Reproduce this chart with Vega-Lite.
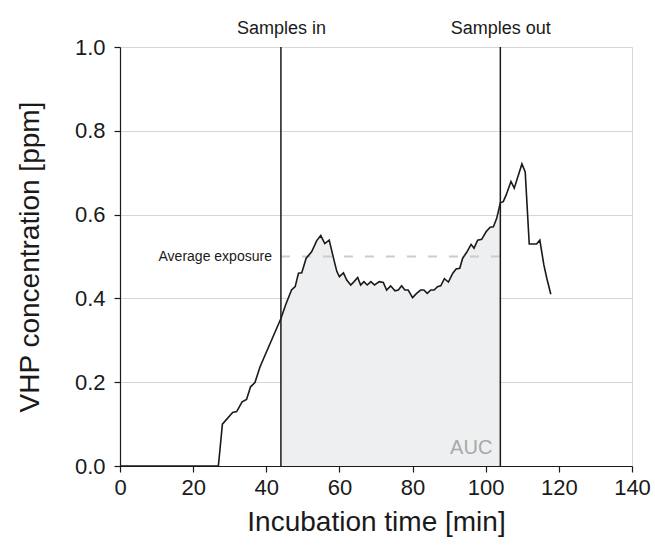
{
  "$schema": "https://vega.github.io/schema/vega-lite/v6.json",
  "width": 512,
  "height": 419,
  "autosize": {"type": "none"},
  "padding": {"left": 120, "top": 47, "right": 23, "bottom": 86},
  "background": "white",
  "config": {
    "font": "Liberation Sans",
    "view": {"stroke": "#d6d6d6", "strokeWidth": 1},
    "axis": {
      "domainColor": "#1a1a1a",
      "domainWidth": 1.2,
      "tickColor": "#1a1a1a",
      "tickWidth": 1.2,
      "tickSize": 6,
      "labelColor": "#1a1a1a",
      "labelFontSize": 22,
      "labelFont": "Liberation Sans",
      "labelFlush": false,
      "labelOverlap": false,
      "titleFont": "Liberation Sans",
      "titleFontSize": 28,
      "titleFontWeight": "normal",
      "titleColor": "#1a1a1a",
      "gridColor": "#d6d6d6",
      "gridWidth": 1
    }
  },
  "datasets": {
    "vhp": [
      {"t": 0, "c": 0}, {"t": 26.9, "c": 0}, {"t": 28.0, "c": 0.1}, {"t": 30.8, "c": 0.128},
      {"t": 31.9, "c": 0.13}, {"t": 33.4, "c": 0.153}, {"t": 34.6, "c": 0.159}, {"t": 35.7, "c": 0.189},
      {"t": 36.9, "c": 0.199}, {"t": 38.3, "c": 0.237}, {"t": 44.0, "c": 0.352}, {"t": 45.3, "c": 0.385},
      {"t": 46.9, "c": 0.42}, {"t": 47.9, "c": 0.428}, {"t": 48.8, "c": 0.46}, {"t": 49.7, "c": 0.461},
      {"t": 50.9, "c": 0.496}, {"t": 52.4, "c": 0.511}, {"t": 53.8, "c": 0.538}, {"t": 54.9, "c": 0.55},
      {"t": 56.0, "c": 0.531}, {"t": 57.2, "c": 0.539}, {"t": 58.5, "c": 0.492}, {"t": 59.3, "c": 0.464},
      {"t": 60.0, "c": 0.452}, {"t": 61.1, "c": 0.461}, {"t": 62.0, "c": 0.444}, {"t": 63.1, "c": 0.432},
      {"t": 64.0, "c": 0.44}, {"t": 65.0, "c": 0.45}, {"t": 65.8, "c": 0.432}, {"t": 66.7, "c": 0.44},
      {"t": 67.6, "c": 0.432}, {"t": 68.6, "c": 0.44}, {"t": 69.6, "c": 0.432}, {"t": 70.9, "c": 0.44},
      {"t": 72.0, "c": 0.438}, {"t": 72.9, "c": 0.42}, {"t": 74.0, "c": 0.43}, {"t": 75.2, "c": 0.418},
      {"t": 76.1, "c": 0.42}, {"t": 77.0, "c": 0.43}, {"t": 77.9, "c": 0.42}, {"t": 78.8, "c": 0.42},
      {"t": 80.0, "c": 0.402}, {"t": 81.1, "c": 0.412}, {"t": 82.2, "c": 0.42}, {"t": 83.1, "c": 0.42},
      {"t": 84.0, "c": 0.412}, {"t": 85.0, "c": 0.42}, {"t": 85.9, "c": 0.42}, {"t": 86.8, "c": 0.428},
      {"t": 87.7, "c": 0.43}, {"t": 88.7, "c": 0.447}, {"t": 89.8, "c": 0.439}, {"t": 91.0, "c": 0.46},
      {"t": 91.9, "c": 0.47}, {"t": 92.9, "c": 0.472}, {"t": 93.7, "c": 0.496}, {"t": 94.8, "c": 0.51},
      {"t": 96.0, "c": 0.529}, {"t": 96.8, "c": 0.52}, {"t": 97.8, "c": 0.539}, {"t": 98.9, "c": 0.541},
      {"t": 100.1, "c": 0.559}, {"t": 101.2, "c": 0.57}, {"t": 102.1, "c": 0.571}, {"t": 103.0, "c": 0.591},
      {"t": 104.0, "c": 0.628}, {"t": 104.8, "c": 0.631}, {"t": 105.6, "c": 0.647}, {"t": 106.9, "c": 0.679},
      {"t": 107.8, "c": 0.663}, {"t": 109.9, "c": 0.721}, {"t": 110.8, "c": 0.702}, {"t": 111.9, "c": 0.53},
      {"t": 113.9, "c": 0.53}, {"t": 114.8, "c": 0.539}, {"t": 115.9, "c": 0.48}, {"t": 116.7, "c": 0.448},
      {"t": 117.8, "c": 0.41}
    ],
    "events": [
      {"t": 44, "label": "Samples in"},
      {"t": 104, "label": "Samples out"}
    ],
    "avg": [
      {"start": 44, "end": 104, "avg": 0.5, "label": "Average exposure"}
    ],
    "auc": [
      {"t": 104, "c": 0, "label": "AUC"}
    ]
  },
  "resolve": {"axis": {"x": "independent", "y": "independent"}},
  "layer": [
    {
      "data": {"name": "vhp"},
      "transform": [{"filter": "datum.t >= 44 && datum.t <= 104"}],
      "mark": {"type": "area", "color": "#eeeff1", "clip": true},
      "encoding": {
        "x": {
          "field": "t", "type": "quantitative",
          "scale": {"domain": [0, 140], "nice": false, "zero": false},
          "axis": {
            "values": [0, 20, 40, 60, 80, 100, 120, 140],
            "grid": false,
            "labelPadding": 5,
            "title": "Incubation time [min]",
            "titlePadding": 10
          }
        },
        "y": {
          "field": "c", "type": "quantitative",
          "scale": {"domain": [0, 1], "nice": false},
          "axis": {
            "values": [0, 0.2, 0.4, 0.6, 0.8, 1.0],
            "format": ".1f",
            "grid": true,
            "labelPadding": 9,
            "title": "VHP concentration [ppm]",
            "titlePadding": 30
          }
        }
      }
    },
    {
      "data": {"name": "avg"},
      "mark": {"type": "rule", "color": "#cccccc", "strokeWidth": 2, "strokeDash": [9, 12]},
      "encoding": {
        "x": {"field": "start", "type": "quantitative", "axis": null},
        "x2": {"field": "end"},
        "y": {"field": "avg", "type": "quantitative", "axis": null}
      }
    },
    {
      "data": {"name": "avg"},
      "mark": {"type": "text", "align": "right", "baseline": "middle", "dx": -9, "fontSize": 14, "color": "#1a1a1a"},
      "encoding": {
        "x": {"field": "start", "type": "quantitative", "axis": null},
        "y": {"field": "avg", "type": "quantitative", "axis": null},
        "text": {"field": "label"}
      }
    },
    {
      "data": {"name": "vhp"},
      "mark": {"type": "line", "color": "#1a1a1a", "strokeWidth": 1.6},
      "encoding": {
        "x": {"field": "t", "type": "quantitative", "axis": null},
        "y": {"field": "c", "type": "quantitative", "axis": null}
      }
    },
    {
      "data": {"name": "events"},
      "mark": {"type": "rule", "color": "#1a1a1a", "strokeWidth": 1.5},
      "encoding": {
        "x": {
          "field": "t", "type": "quantitative",
          "axis": {
            "orient": "top",
            "values": [44, 104],
            "labelExpr": "datum.value == 44 ? 'Samples in' : 'Samples out'",
            "labelFontSize": 18,
            "labelPadding": 10,
            "ticks": false,
            "domain": false,
            "grid": false,
            "title": null
          }
        }
      }
    },
    {
      "data": {"name": "auc"},
      "mark": {"type": "text", "align": "right", "baseline": "bottom", "dx": -8, "dy": -8, "fontSize": 20, "color": "#a8a8a8"},
      "encoding": {
        "x": {"field": "t", "type": "quantitative", "axis": null},
        "y": {"field": "c", "type": "quantitative", "axis": null},
        "text": {"field": "label"}
      }
    }
  ]
}
